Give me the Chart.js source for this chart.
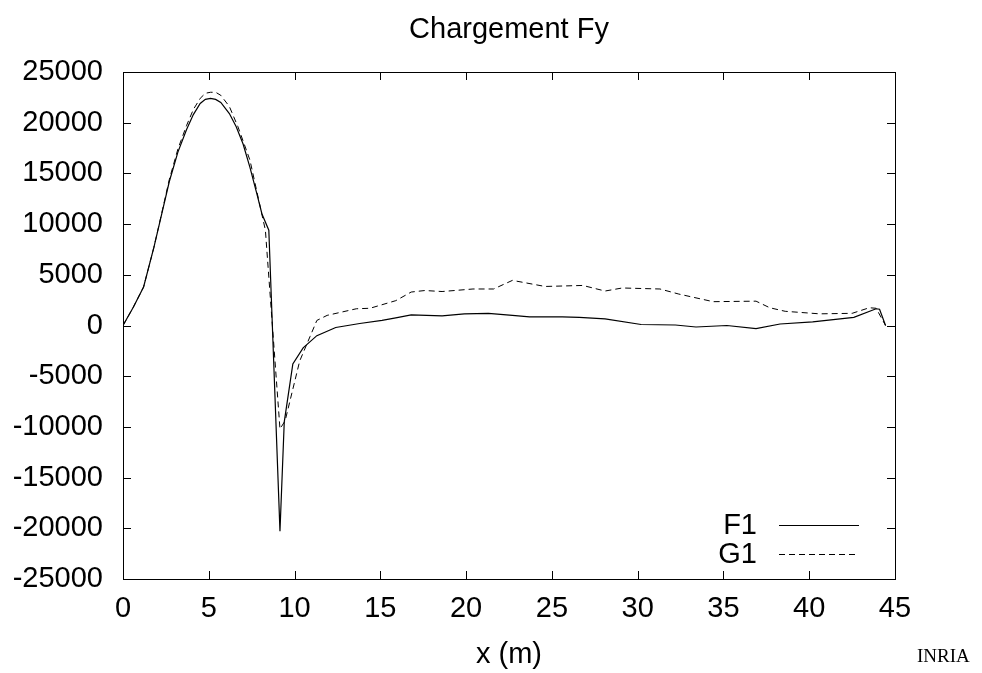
<!DOCTYPE html>
<html>
<head>
<meta charset="utf-8">
<script src="https://cdn.jsdelivr.net/npm/chart.js@4/dist/chart.umd.min.js"></script>
<style>
  body { margin: 0; background: #fff; }
  canvas { display: block; }
</style>
</head>
<body>
<canvas id="chart" width="982" height="673"></canvas>
<script>
// values (x in m, load in N)
const f1X = [0, 0.6, 1.2, 1.8, 2.3, 2.7, 3.2, 3.7, 4.1, 4.5, 4.8, 5.1, 5.4, 5.7, 6.2, 6.6, 7.0, 7.4, 7.8, 8.1, 8.5, 9.15, 9.4, 9.9, 10.5, 11.3, 12.4, 13.8, 15.1, 15.9, 16.8, 18.6, 19.9, 21.3, 22.7, 23.7, 25.6, 26.6, 28.1, 30.2, 32.2, 33.4, 35.2, 36.9, 38.3, 40.2, 42.6, 43.9, 44.1, 44.45];
const f1Y = [0, 1800, 3800, 7700, 11300, 14200, 17100, 19300, 20800, 21900, 22300, 22400, 22300, 22000, 20900, 19600, 17900, 15600, 13000, 11000, 9400, -20300, -9500, -3800, -2200, -1000, -200, 200, 500, 750, 1050, 950, 1150, 1200, 1000, 850, 850, 800, 650, 100, 50, -150, 0, -300, 150, 350, 800, 1650, 1600, 0];
const g1X = [0, 0.6, 1.2, 1.8, 2.3, 2.7, 3.2, 3.7, 4.1, 4.5, 4.8, 5.1, 5.4, 5.7, 6.2, 6.7, 7.0, 7.4, 7.7, 8.0, 8.3, 9.15, 9.45, 10.3, 10.9, 11.3, 11.9, 13.6, 14.4, 15.9, 16.8, 17.6, 18.6, 20.4, 21.6, 22.7, 24.6, 26.8, 28.1, 29.1, 31.3, 32.4, 34.4, 36.9, 37.7, 38.6, 40.6, 42.5, 43.5, 43.9, 44.45];
const g1Y = [0, 1800, 3800, 7700, 11400, 14400, 17400, 19700, 21300, 22400, 22900, 23000, 23000, 22700, 21600, 19600, 18200, 16300, 14000, 11700, 9400, -10200, -9400, -3500, -1100, 500, 1000, 1650, 1700, 2450, 3300, 3450, 3350, 3600, 3600, 4450, 3850, 3950, 3400, 3700, 3600, 3100, 2350, 2400, 1750, 1400, 1150, 1200, 1750, 1700, 0];

const xTicks = [0, 5, 10, 15, 20, 25, 30, 35, 40, 45];
const yTicks = [-25000, -20000, -15000, -10000, -5000, 0, 5000, 10000, 15000, 20000, 25000];
const titleText = 'Chargement Fy';

const FONT = 'Liberation Sans, Arial, Helvetica, sans-serif';
const toPoints = (xs, ys) => xs.map((x, i) => ({ x, y: ys[i] }));

// gnuplot look: full frame, inward ticks on all four sides, title over the plot, legend inside
const framePlugin = {
    id: 'frame',
    afterDraw(chart) {
        const { ctx, chartArea: a, scales } = chart;
        const len = 8;
        ctx.save();
        ctx.strokeStyle = '#000';
        ctx.lineWidth = 1;
        ctx.strokeRect(a.left + 0.5, a.top + 0.5, a.right - a.left, a.bottom - a.top);
        ctx.beginPath();
        yTicks.forEach(v => {
            const py = Math.round(scales.y.getPixelForValue(v)) + 0.5;
            ctx.moveTo(a.left, py); ctx.lineTo(a.left + len, py);
            ctx.moveTo(a.right, py); ctx.lineTo(a.right - len, py);
        });
        xTicks.forEach(v => {
            const px = Math.round(scales.x.getPixelForValue(v)) + 0.5;
            ctx.moveTo(px, a.bottom); ctx.lineTo(px, a.bottom - len);
            ctx.moveTo(px, a.top); ctx.lineTo(px, a.top + len);
        });
        ctx.stroke();

        ctx.fillStyle = '#000';
        ctx.font = '29px ' + FONT;
        ctx.textAlign = 'center';
        ctx.textBaseline = 'middle';
        ctx.fillText(titleText, (a.left + a.right) / 2, 30);

        ctx.textAlign = 'right';
        chart.data.datasets.forEach((ds, i) => {
            const y = a.bottom - 54 + i * 29;
            ctx.fillStyle = '#000';
            ctx.fillText(ds.label, a.right - 138, y + 1);
            ctx.beginPath();
            ctx.setLineDash(ds.borderDash || []);
            ctx.strokeStyle = ds.borderColor;
            ctx.lineWidth = ds.borderWidth;
            ctx.moveTo(a.right - 116, Math.round(y) + 0.5);
            ctx.lineTo(a.right - 36, Math.round(y) + 0.5);
            ctx.stroke();
        });
        ctx.setLineDash([]);

        ctx.font = '19px "Liberation Serif", "DejaVu Serif", serif';
        ctx.textAlign = 'left';
        ctx.fillStyle = '#000';
        ctx.fillText('INRIA', 917, 657);
        ctx.restore();
    }
};

new Chart(document.getElementById('chart'), {
    type: 'line',
    data: {
        datasets: [
            { label: 'F1', data: toPoints(f1X, f1Y), borderColor: '#000', borderWidth: 1.2, pointRadius: 0, tension: 0, fill: false },
            { label: 'G1', data: toPoints(g1X, g1Y), borderColor: '#000', borderWidth: 1, borderDash: [6, 4], pointRadius: 0, tension: 0, fill: false }
        ]
    },
    options: {
        responsive: false,
        animation: false,
        devicePixelRatio: 1,
        layout: { padding: { left: 0, right: 87, top: 72, bottom: 0 } },
        plugins: {
            legend: { display: false },
            tooltip: { enabled: false },
            title: { display: false }
        },
        scales: {
            x: {
                type: 'linear',
                min: 0,
                max: 45,
                afterFit: s => { s.height = 94; },
                afterBuildTicks: s => { s.ticks = xTicks.map(v => ({ value: v })); },
                grid: { display: false, drawTicks: false },
                border: { display: false },
                ticks: { color: '#000', padding: 13, maxRotation: 0, font: { family: FONT, size: 29 } },
                title: { display: true, text: 'x (m)', color: '#000', padding: { top: 0, bottom: 1 }, font: { family: FONT, size: 29 } }
            },
            y: {
                type: 'linear',
                min: -25000,
                max: 25000,
                afterFit: s => { s.width = 123; },
                afterBuildTicks: s => { s.ticks = yTicks.map(v => ({ value: v })); },
                grid: { display: false, drawTicks: false },
                border: { display: false },
                ticks: { color: '#000', padding: 20, font: { family: FONT, size: 29 }, callback: v => String(v) }
            }
        }
    },
    plugins: [framePlugin]
});
</script>
</body>
</html>
